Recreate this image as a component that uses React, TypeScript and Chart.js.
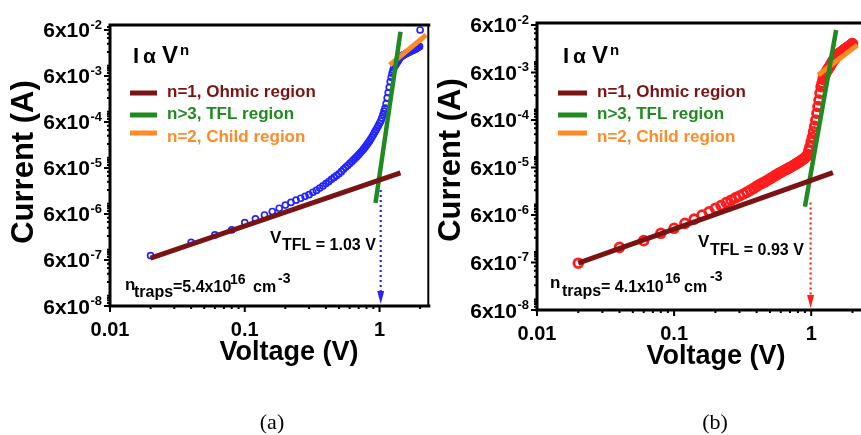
import React, { useEffect, useRef } from "react";
import { Chart, registerables } from "chart.js";
Chart.register(...registerables);

// ---------------- data ----------------
const VOLTAGE = [
  0.02, 0.04, 0.06, 0.08, 0.10, 0.12, 0.14, 0.16, 0.18, 0.20,
  0.22, 0.24, 0.26, 0.28, 0.30, 0.32, 0.34, 0.36, 0.38, 0.40,
  0.42, 0.44, 0.46, 0.48, 0.50, 0.52, 0.54, 0.56, 0.58, 0.60,
  0.62, 0.64, 0.66, 0.68, 0.70, 0.72, 0.74, 0.76, 0.78, 0.80,
  0.82, 0.84, 0.86, 0.88, 0.90, 0.92, 0.94, 0.96, 0.98, 1.00,
  1.02, 1.04, 1.06, 1.08, 1.10, 1.12, 1.14, 1.16, 1.18, 1.20,
  1.22, 1.24, 1.26, 1.28, 1.30, 1.32, 1.34, 1.36, 1.38, 1.40,
  1.42, 1.44, 1.46, 1.48, 1.50, 1.52, 1.54, 1.56, 1.58, 1.60,
  1.62, 1.64, 1.66, 1.68, 1.70, 1.72, 1.74, 1.76, 1.78, 1.80,
  1.82, 1.84, 1.86, 1.88, 1.90, 1.92, 1.94, 1.96, 1.98, 2.00,
];

const CURRENT_A = [
  7.5e-7, 1.45e-6, 2.1e-6, 2.7e-6, 3.9e-6, 4.7e-6, 5.7e-6, 6.8e-6, 8.0e-6, 9.4e-6,
  1.07e-5, 1.2e-5, 1.32e-5, 1.45e-5, 1.58e-5, 1.78e-5, 1.95e-5, 2.2e-5, 2.45e-5, 2.75e-5,
  3.05e-5, 3.4e-5, 3.75e-5, 4.1e-5, 4.5e-5, 5.0e-5, 5.6e-5, 6.2e-5, 6.8e-5, 7.5e-5,
  8.2e-5, 9.0e-5, 9.8e-5, 1.07e-4, 1.17e-4, 1.28e-4, 1.4e-4, 1.54e-4, 1.7e-4, 1.88e-4,
  2.08e-4, 2.3e-4, 2.55e-4, 2.85e-4, 3.2e-4, 3.6e-4, 4.0e-4, 4.5e-4, 5.0e-4, 5.6e-4,
  6.3e-4, 7.3e-4, 8.7e-4, 1.03e-3, 1.2e-3, 1.5e-3, 2.0e-3, 2.6e-3, 3.4e-3, 4.5e-3,
  5.6e-3, 6.9e-3, 8.1e-3, 9.1e-3, 1.0e-2, 1.07e-2, 1.15e-2, 1.23e-2, 1.32e-2, 1.41e-2,
  1.51e-2, 1.58e-2, 1.62e-2, 1.66e-2, 1.7e-2, 1.74e-2, 1.78e-2, 1.82e-2, 1.86e-2, 1.9e-2,
  1.93e-2, 1.96e-2, 2.0e-2, 2.04e-2, 2.08e-2, 2.11e-2, 2.14e-2, 2.18e-2, 2.21e-2, 2.24e-2,
  2.28e-2, 2.32e-2, 2.35e-2, 2.4e-2, 2.45e-2, 2.5e-2, 2.56e-2, 2.6e-2, 2.64e-2, 6.0e-2,
];

const CURRENT_B = [
  5.8e-7, 1.25e-6, 1.73e-6, 2.47e-6, 3.15e-6, 4.0e-6, 4.9e-6, 6.0e-6, 7.0e-6, 8.3e-6,
  9.5e-6, 1.1e-5, 1.23e-5, 1.38e-5, 1.51e-5, 1.66e-5, 1.82e-5, 2.0e-5, 2.19e-5, 2.4e-5,
  2.63e-5, 2.82e-5, 3.0e-5, 3.24e-5, 3.47e-5, 3.7e-5, 4.0e-5, 4.2e-5, 4.5e-5, 4.7e-5,
  5.0e-5, 5.25e-5, 5.5e-5, 5.75e-5, 6.0e-5, 6.3e-5, 6.6e-5, 6.9e-5, 7.2e-5, 7.6e-5,
  7.9e-5, 8.3e-5, 8.7e-5, 9.1e-5, 9.5e-5, 1.02e-4, 1.12e-4, 1.35e-4, 1.66e-4, 2.1e-4,
  2.6e-4, 3.4e-4, 4.4e-4, 6.0e-4, 8.3e-4, 1.15e-3, 1.58e-3, 2.2e-3, 3.0e-3, 3.6e-3,
  4.3e-3, 4.9e-3, 5.4e-3, 5.9e-3, 6.5e-3, 6.9e-3, 7.4e-3, 7.9e-3, 8.5e-3, 9.1e-3,
  9.8e-3, 1.05e-2, 1.1e-2, 1.15e-2, 1.2e-2, 1.29e-2, 1.35e-2, 1.41e-2, 1.45e-2, 1.51e-2,
  1.55e-2, 1.58e-2, 1.62e-2, 1.66e-2, 1.72e-2, 1.76e-2, 1.8e-2, 1.84e-2, 1.88e-2, 1.93e-2,
  1.97e-2, 2.02e-2, 2.07e-2, 2.11e-2, 2.16e-2, 2.21e-2, 2.26e-2, 2.32e-2, 2.37e-2, 2.43e-2,
];

// fit lines: [V start, V end], [I start, I end]
const OHMIC_A_V = [0.02, 1.43];
const OHMIC_A_I = [6.6e-7, 4.7e-5];
const TFL_A_V = [0.933, 1.43];
const TFL_A_I = [1.04e-5, 5.5e-2];
const CHILD_A_V = [1.19, 2.22];
const CHILD_A_I = [1.04e-2, 4.7e-2];

const OHMIC_B_V = [0.02, 1.44];
const OHMIC_B_I = [5.8e-7, 4.7e-5];
const TFL_B_V = [0.9, 1.52];
const TFL_B_I = [9.0e-6, 4.7e-2];
const CHILD_B_V = [1.124, 2.17];
const CHILD_B_I = [5.3e-3, 2.27e-2];

const Y_TICKS = [6e-8, 6e-7, 6e-6, 6e-5, 6e-4, 6e-3, 6e-2];
const Y_TICK_EXP = ["-8", "-7", "-6", "-5", "-4", "-3", "-2"];
const X_TICKS = [0.01, 0.1, 1];
const X_TICK_LABELS = ["0.01", "0.1", "1"];
const LEGEND_LABELS = ["n=1, Ohmic region", "n>3, TFL region", "n=2, Child region"];
const VTFL_LABELS = ["TFL = 1.03 V", "TFL = 0.93 V"];
const NTRAPS_LABELS = ["=5.4x10", "= 4.1x10"];
const ARROW_V = [1.02, 0.99];
const ARROW_TOP_I = [2.0e-5, 1.1e-5];
const CAPTIONS = ["(a)", "(b)"];

// ---------------- styling ----------------
const FONT = '"Liberation Sans", Arial, Helvetica, sans-serif';
const SERIF = '"Liberation Serif", "Times New Roman", serif';
const C_OHMIC = "#7a1414";
const C_TFL = "#1f8a1f";
const C_CHILD = "#ff8a26";

type Run = { t: string; x: number; y: number; s: number; c?: string };

interface Panel {
  idx: number;
  canvasLeft: number;
  width: number;
  pad: { left: number; right: number; top: number; bottom: number };
  yMax: number;
  current: number[];
  ohmic: [number[], number[]];
  tfl: [number[], number[]];
  child: [number[], number[]];
  dataColor: string;
  pointRadius: number;
  pointBorder: number;
  rightBorder: boolean;
  legendLineX: [number, number];
  legendTextX: number;
  runs: Run[];
  captionX: number;
}

const PANEL_A: Panel = {
  idx: 0,
  canvasLeft: 0,
  width: 434,
  pad: { left: 110, right: 3, top: 25, bottom: 129 },
  yMax: 7.7e-2,
  current: CURRENT_A,
  ohmic: [OHMIC_A_V, OHMIC_A_I],
  tfl: [TFL_A_V, TFL_A_I],
  child: [CHILD_A_V, CHILD_A_I],
  dataColor: "#2424ff",
  pointRadius: 3,
  pointBorder: 1.7,
  rightBorder: true,
  legendLineX: [130, 157],
  legendTextX: 167,
  runs: [
    { t: "I", x: 133, y: 63, s: 22 },
    { t: "α", x: 143, y: 63, s: 21 },
    { t: "V", x: 162, y: 63, s: 24 },
    { t: "n", x: 180, y: 55, s: 15 },
    { t: "V", x: 270, y: 243, s: 17 },
    { t: VTFL_LABELS[0], x: 282, y: 250, s: 16 },
    { t: "n", x: 125, y: 290, s: 17 },
    { t: "traps", x: 134, y: 297, s: 16 },
    { t: NTRAPS_LABELS[0], x: 173, y: 292, s: 16 },
    { t: "16", x: 230, y: 284, s: 14 },
    { t: "cm", x: 253, y: 292, s: 16 },
    { t: "-3", x: 278, y: 283, s: 14 },
  ],
  captionX: 272,
};

const PANEL_B: Panel = {
  idx: 1,
  canvasLeft: 434,
  width: 434,
  pad: { left: 103, right: 5, top: 23, bottom: 125 },
  yMax: 6.6e-2,
  current: CURRENT_B,
  ohmic: [OHMIC_B_V, OHMIC_B_I],
  tfl: [TFL_B_V, TFL_B_I],
  child: [CHILD_B_V, CHILD_B_I],
  dataColor: "#ff1c1c",
  pointRadius: 4.4,
  pointBorder: 2.8,
  rightBorder: false,
  legendLineX: [558, 587],
  legendTextX: 597,
  runs: [
    { t: "I", x: 563, y: 63, s: 22 },
    { t: "α", x: 573, y: 63, s: 21 },
    { t: "V", x: 592, y: 63, s: 24 },
    { t: "n", x: 610, y: 55, s: 15 },
    { t: "V", x: 698, y: 247, s: 17 },
    { t: VTFL_LABELS[1], x: 710, y: 255, s: 16 },
    { t: "n", x: 550, y: 288, s: 17 },
    { t: "traps", x: 562, y: 296, s: 16 },
    { t: NTRAPS_LABELS[1], x: 601, y: 292, s: 16 },
    { t: "16", x: 665, y: 283, s: 14 },
    { t: "cm", x: 684, y: 292, s: 16 },
    { t: "-3", x: 710, y: 281, s: 14 },
  ],
  captionX: 715,
};

function lineDataset(pair: [number[], number[]], color: string, width: number) {
  return {
    data: pair[0].map((v, i) => ({ x: v, y: pair[1][i] })),
    showLine: true,
    borderColor: color,
    backgroundColor: color,
    borderWidth: width,
    pointRadius: 0,
    borderCapStyle: "butt" as const,
  };
}

function makeChart(canvas: HTMLCanvasElement, p: Panel) {
  const off = p.canvasLeft;
  const plugin = {
    id: "panelDecor" + p.idx,
    afterDraw(chart: any) {
      const ctx: CanvasRenderingContext2D = chart.ctx;
      const { left, right, top, bottom } = chart.chartArea;
      const xs = chart.scales.x;
      const ys = chart.scales.y;
      ctx.save();

      // dotted arrow
      const ax = xs.getPixelForValue(ARROW_V[p.idx]);
      const ayTop = ys.getPixelForValue(ARROW_TOP_I[p.idx]);
      ctx.strokeStyle = p.dataColor;
      ctx.fillStyle = p.dataColor;
      ctx.lineWidth = 2.2;
      ctx.setLineDash([2, 3]);
      ctx.beginPath();
      ctx.moveTo(ax, ayTop);
      ctx.lineTo(ax, bottom - 12);
      ctx.stroke();
      ctx.setLineDash([]);
      ctx.beginPath();
      ctx.moveTo(ax - 3.5, bottom - 15);
      ctx.lineTo(ax + 3.5, bottom - 15);
      ctx.lineTo(ax, bottom - 2);
      ctx.closePath();
      ctx.fill();

      // frame
      ctx.strokeStyle = "#000";
      ctx.lineWidth = 3;
      ctx.beginPath();
      ctx.moveTo(left, top);
      ctx.lineTo(left, bottom);
      ctx.lineTo(right + 2, bottom);
      ctx.moveTo(left - 1.5, top);
      ctx.lineTo(right + 2, top);
      ctx.stroke();
      if (p.rightBorder) {
        ctx.lineWidth = 2;
        ctx.beginPath();
        ctx.moveTo(right, top);
        ctx.lineTo(right, bottom);
        ctx.stroke();
      }

      // y ticks
      ctx.lineWidth = 2;
      const yMin = ys.min, yMax = ys.max;
      ctx.beginPath();
      for (let e = -8; e <= -1; e++) {
        for (let k = 1; k <= 9; k++) {
          const v = k * Math.pow(10, e);
          if (v < yMin * 0.999 || v > yMax * 1.001) continue;
          const y = ys.getPixelForValue(v);
          const len = k === 6 ? 6 : 3;
          ctx.moveTo(left, y);
          ctx.lineTo(left - len, y);
        }
      }
      // x ticks
      for (let e = -2; e <= 0; e++) {
        for (let k = 1; k <= 9; k++) {
          const v = k * Math.pow(10, e);
          if (v < xs.min * 0.999 || v > xs.max * 1.001) continue;
          const x = xs.getPixelForValue(v);
          const len = k === 1 ? 6 : 3;
          ctx.moveTo(x, bottom);
          ctx.lineTo(x, bottom + len);
        }
      }
      ctx.stroke();

      // y tick labels
      ctx.fillStyle = "#000";
      ctx.textBaseline = "alphabetic";
      Y_TICKS.forEach((v, i) => {
        const y = ys.getPixelForValue(v);
        const rx = left - 8;
        ctx.font = `bold 13px ${FONT}`;
        const sw = ctx.measureText(Y_TICK_EXP[i]).width;
        ctx.textAlign = "left";
        ctx.fillText(Y_TICK_EXP[i], rx - sw, y - 1);
        ctx.font = `bold 21px ${FONT}`;
        ctx.textAlign = "right";
        ctx.fillText("6x10", rx - sw - 0.5, y + 7.5);
      });

      // x tick labels
      ctx.font = `bold 20px ${FONT}`;
      ctx.textAlign = "center";
      X_TICKS.forEach((v, i) => {
        ctx.fillText(X_TICK_LABELS[i], xs.getPixelForValue(v), bottom + 30);
      });

      // axis titles
      ctx.font = `bold 27px ${FONT}`;
      ctx.fillText("Voltage (V)", left + 179, bottom + 54);
      ctx.save();
      ctx.translate(left - 77, top + 137);
      ctx.rotate(-Math.PI / 2);
      ctx.font = `bold 31px ${FONT}`;
      ctx.textAlign = "center";
      ctx.fillText("Current (A)", 0, 0);
      ctx.restore();

      // legend
      const legendY = [93, 115, 133];
      const legendTextY = [97, 119, 142];
      const legendColors = [C_OHMIC, C_TFL, C_CHILD];
      ctx.lineWidth = 5;
      legendColors.forEach((c, i) => {
        ctx.strokeStyle = c;
        ctx.beginPath();
        ctx.moveTo(p.legendLineX[0] - off, legendY[i]);
        ctx.lineTo(p.legendLineX[1] - off, legendY[i]);
        ctx.stroke();
        ctx.fillStyle = c;
        ctx.font = `bold 17px ${FONT}`;
        ctx.textAlign = "left";
        ctx.fillText(LEGEND_LABELS[i], p.legendTextX - off, legendTextY[i]);
      });

      // text runs
      ctx.textAlign = "left";
      p.runs.forEach((r) => {
        ctx.fillStyle = r.c || "#000";
        ctx.font = `bold ${r.s}px ${FONT}`;
        ctx.fillText(r.t, r.x - off, r.y);
      });

      // caption
      ctx.fillStyle = "#000";
      ctx.font = `22px ${SERIF}`;
      ctx.textAlign = "center";
      ctx.fillText(CAPTIONS[p.idx], p.captionX - off, 429);

      ctx.restore();
    },
  };

  return new Chart(canvas, {
    type: "scatter",
    data: {
      datasets: [
        lineDataset(p.ohmic, C_OHMIC, 5),
        lineDataset(p.tfl, C_TFL, 4.5),
        lineDataset(p.child, C_CHILD, 5),
        {
          data: VOLTAGE.map((v, i) => ({ x: v, y: p.current[i] })),
          showLine: false,
          pointStyle: "circle",
          pointRadius: p.pointRadius,
          pointBorderWidth: p.pointBorder,
          borderColor: p.dataColor,
          pointBorderColor: p.dataColor,
          backgroundColor: "rgba(0,0,0,0)",
          pointBackgroundColor: "rgba(0,0,0,0)",
        },
      ],
    } as any,
    options: {
      animation: false,
      responsive: false,
      events: [],
      layout: { padding: p.pad },
      plugins: { legend: { display: false }, tooltip: { enabled: false } },
      scales: {
        x: { type: "logarithmic", min: 0.01, max: 2.3, bounds: "data", display: false },
        y: { type: "logarithmic", min: 6e-8, max: p.yMax, bounds: "data", display: false },
      },
    } as any,
    plugins: [plugin],
  });
}

export default function App() {
  const refA = useRef<HTMLCanvasElement>(null);
  const refB = useRef<HTMLCanvasElement>(null);
  useEffect(() => {
    const a = makeChart(refA.current!, PANEL_A);
    const b = makeChart(refB.current!, PANEL_B);
    return () => {
      a.destroy();
      b.destroy();
    };
  }, []);
  return (
    <div
      style={{
        position: "fixed",
        left: 0,
        top: 0,
        width: 861,
        height: 435,
        overflow: "hidden",
        background: "#fff",
      }}
    >
      <canvas
        ref={refA}
        width={434}
        height={435}
        style={{ position: "absolute", left: 0, top: 0, width: 434, height: 435 }}
      />
      <canvas
        ref={refB}
        width={434}
        height={435}
        style={{ position: "absolute", left: 434, top: 0, width: 434, height: 435 }}
      />
    </div>
  );
}
